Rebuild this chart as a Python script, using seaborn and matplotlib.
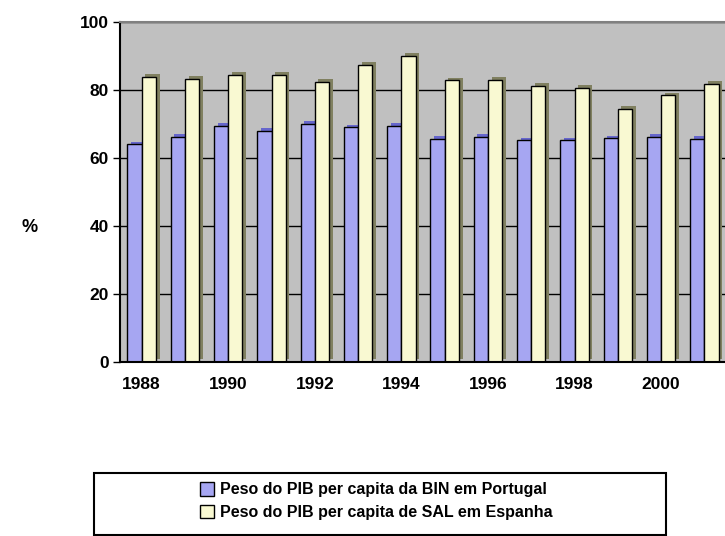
import pandas as pd
import matplotlib
matplotlib.use("Agg")
import matplotlib.pyplot as plt
import matplotlib.patheffects as pe
from matplotlib.patches import Rectangle
from matplotlib.ticker import FixedLocator
import seaborn as sns

# values (% of national GDP per capita)
years = [1988, 1989, 1990, 1991, 1992, 1993, 1994,
         1995, 1996, 1997, 1998, 1999, 2000, 2001]
bin_portugal = [64.0, 66.3, 69.5, 68.0, 70.0, 69.0, 69.5,
                65.7, 66.3, 65.2, 65.2, 65.8, 66.2, 65.7]
sal_espanha = [83.9, 83.3, 84.5, 84.5, 82.4, 87.3, 90.0,
               82.8, 82.9, 81.2, 80.6, 74.5, 78.4, 81.8]
series_names = ["Peso do PIB per capita da BIN em Portugal",
                "Peso do PIB per capita de SAL em Espanha"]
year_labels = [str(y) if y % 2 == 0 else "" for y in years]
yticks = [0, 20, 40, 60, 80, 100]

df = pd.DataFrame({
    "year": [str(y) for y in years] * 2,
    "value": bin_portugal + sal_espanha,
    "serie": [series_names[0]] * len(years) + [series_names[1]] * len(years),
})

sns.set_style("white")
plt.rcParams["font.family"] = ["Liberation Sans", "DejaVu Sans"]
plt.rcParams["font.weight"] = "bold"
plt.rcParams["text.color"] = "black"
plt.rcParams["xtick.color"] = "black"
plt.rcParams["ytick.color"] = "black"

fig = plt.figure(figsize=(7.25, 5.36), dpi=100)
ax = fig.add_axes([120 / 725, 1 - 362 / 536, 606 / 725, 340 / 536])
ax.set_facecolor("#C0C0C0")

colors = ["#9999FF", "#FFFFCC"]
sns.barplot(data=df, x="year", y="value", hue="serie", palette=colors,
            width=0.66, edgecolor="black", linewidth=1.0, ax=ax)

# fake 3D depth: a shadow to the upper right of each bar
shadow_cols = ["#6666CC", "#808060"]
for cont, sc in zip(ax.containers, shadow_cols):
    for bar in cont:
        bar.set_path_effects([pe.SimplePatchShadow(offset=(2.6, 2.0), shadow_rgbFace=sc, alpha=1.0),
                              pe.Normal()])

handles, labels = ax.get_legend_handles_labels()
ax.get_legend().remove()

ax.set_ylim(0, 100)
ax.set_xlim(-0.5, len(years) - 0.5)
ax.set_yticks(yticks)
ax.set_yticklabels([str(v) for v in yticks], fontsize=12.5, fontweight="bold")
ax.set_xticks(range(len(years)))
ax.set_xticklabels(year_labels, fontsize=12.5, fontweight="bold")
ax.xaxis.set_minor_locator(FixedLocator([i - 0.5 for i in range(len(years) + 1)]))
ax.tick_params(axis="x", which="major", length=0, pad=11, labelcolor="black")
ax.tick_params(axis="x", which="minor", length=5, width=1, color="black", direction="out")
ax.tick_params(axis="y", length=5, width=1, color="black", direction="out", left=True, pad=3,
               labelcolor="black")
ax.set_xlabel("")
ax.set_ylabel("")

ax.grid(axis="y", color="black", linewidth=1)
ax.set_axisbelow(True)
for side in ["left", "bottom"]:
    ax.spines[side].set_color("black")
    ax.spines[side].set_linewidth(1.5)
ax.spines["top"].set_color("#808080")
ax.spines["top"].set_linewidth(1.5)
ax.spines["right"].set_visible(False)

fig.text(30 / 725, 1 - 228 / 536, "%", fontsize=13, fontweight="bold",
         ha="center", va="center", color="black")

fig.legend(handles, labels, loc="center", bbox_to_anchor=(376 / 725, 1 - 501 / 536),
           frameon=False, prop={"size": 11.5, "weight": "bold"}, labelcolor="black",
           handlelength=0.9, handleheight=0.9, handletextpad=0.35, labelspacing=0.45)
fig.patches.append(Rectangle((94 / 725, 1 / 536), 572 / 725, 62 / 536,
                             transform=fig.transFigure, fill=False,
                             edgecolor="black", linewidth=1.5))

fig.savefig("out.png", dpi=100)
